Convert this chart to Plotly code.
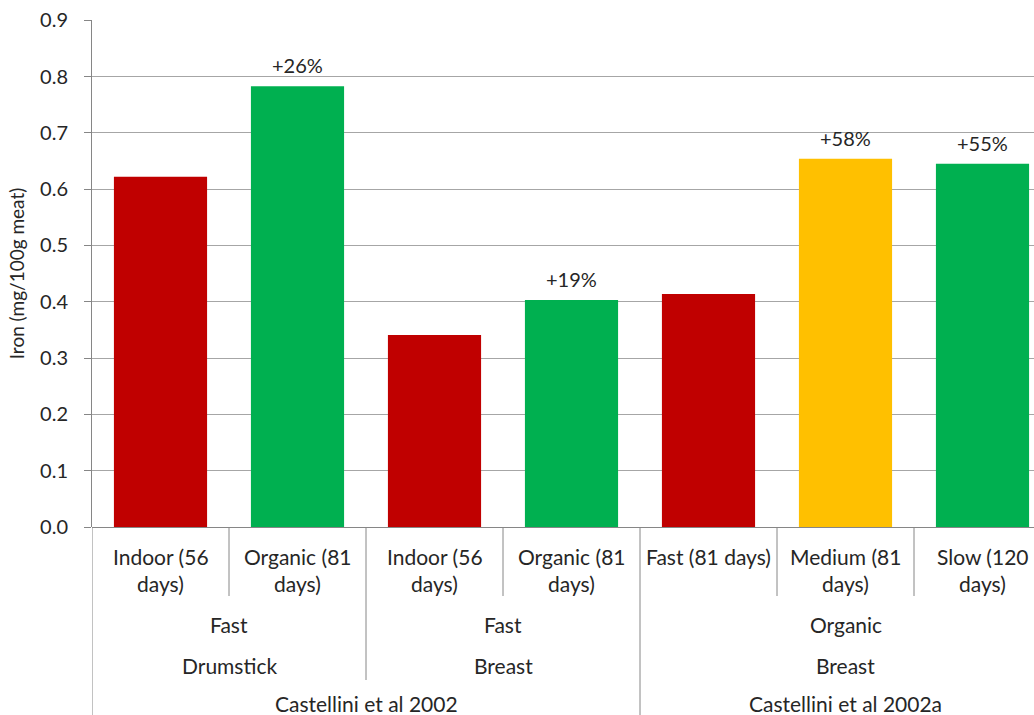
import plotly.graph_objects as go

# ---- data ----
bar_labels = ["Indoor (56<br>days)", "Organic (81<br>days)", "Indoor (56<br>days)",
              "Organic (81<br>days)", "Fast (81 days)", "Medium (81<br>days)", "Slow (120<br>days)"]
iron = [0.622, 0.783, 0.341, 0.403, 0.414, 0.654, 0.645]
bar_colors = ["#C00000", "#00B050", "#C00000", "#00B050", "#C00000", "#FFC000", "#00B050"]
pct_labels = [None, "+26%", None, "+19%", None, "+58%", "+55%"]

level2 = [("Fast", 0, 1), ("Fast", 2, 3), ("Organic", 4, 6)]
level3 = [("Drumstick", 0, 1), ("Breast", 2, 3), ("Breast", 4, 6)]
level4 = [("Castellini et al 2002", 0, 3), ("Castellini et al 2002a", 4, 6)]

y_ticks = [0.0, 0.1, 0.2, 0.3, 0.4, 0.5, 0.6, 0.7, 0.8, 0.9]
y_title = "Iron (mg/100g meat)"

# ---- layout constants ----
W, H = 1034, 715
ML, MT, MB = 92, 20, 188
PH = H - MT - MB
AXIS_Y = MT + PH  # pixel y of x axis
FONT = "Lato, Calibri, sans-serif"
TXT = "#262626"
GRID = "#A6A6A6"
AXC = "#868686"
LBL = 21


def paper_y(ypx):
    return (AXIS_Y - ypx) / PH


x_idx = list(range(len(iron)))

fig = go.Figure()
fig.add_trace(go.Bar(x=x_idx, y=iron, marker=dict(color=bar_colors, line=dict(width=0)),
                     hoverinfo="skip"))

ann = []
# percent labels above bars
for i, (v, t) in enumerate(zip(iron, pct_labels)):
    if t:
        ann.append(dict(x=i, y=v, xref="x", yref="y", text=t, showarrow=False,
                        yanchor="middle", yshift=21, font=dict(size=20, color=TXT, family=FONT)))

# level 1 labels (bar categories)
for i, lab in enumerate(bar_labels):
    for j, line in enumerate(lab.split("<br>")):
        ann.append(dict(x=i, y=paper_y(556 + 27 * j), xref="x", yref="paper", text=line,
                        showarrow=False, yanchor="middle",
                        font=dict(size=LBL, color=TXT, family=FONT)))

# group levels
for groups, ypx in ((level2, 624), (level3, 665), (level4, 703)):
    for name, a, b in groups:
        ann.append(dict(x=(a + b) / 2, y=paper_y(ypx), xref="x", yref="paper", text=name,
                        showarrow=False, yanchor="middle",
                        font=dict(size=LBL, color=TXT, family=FONT)))

shapes = []
# separators
n = len(iron)
long_b = set()
mid_b = set()
for name, a, b in level4:
    long_b.add(a - 0.5)
for groups in (level2, level3):
    for name, a, b in groups:
        mid_b.add(a - 0.5)
for k in range(0, n):
    xb = k - 0.5
    if xb in long_b:
        bottom = H + 10
    elif xb in mid_b:
        bottom = 680
    else:
        bottom = 596
    shapes.append(dict(type="line", xref="x", yref="paper", x0=xb, x1=xb,
                       y0=0, y1=paper_y(bottom), line=dict(color=AXC, width=1)))

fig.update_layout(
    width=W, height=H,
    margin=dict(l=ML, r=0, t=MT, b=MB, autoexpand=False),
    plot_bgcolor="white", paper_bgcolor="white",
    bargap=0.32,
    showlegend=False,
    annotations=ann,
    shapes=shapes,
    font=dict(family=FONT, color=TXT),
    xaxis=dict(range=[-0.5, -0.5 + (W - ML) / 137.0], showticklabels=False, showgrid=False,
               zeroline=False, showline=False, ticks="", fixedrange=True, automargin=False),
    yaxis=dict(range=[0, 0.9005], tickvals=y_ticks, tickformat=".1f", showgrid=True,
               gridcolor=GRID, gridwidth=1, zeroline=True, zerolinecolor=AXC, zerolinewidth=1,
               showline=True, linecolor=AXC, linewidth=1,
               ticks="outside", ticklen=7, tickcolor=AXC, fixedrange=True,
               ticklabelstandoff=12, automargin=False,
               tickfont=dict(size=20, color=TXT, family=FONT),
               title=dict(text=y_title, font=dict(size=19, color=TXT, family=FONT), standoff=10)),
)

fig.write_html("out.html", config={"displayModeBar": False},
               post_script="document.body.style.margin='0';document.body.style.overflow='hidden';")
